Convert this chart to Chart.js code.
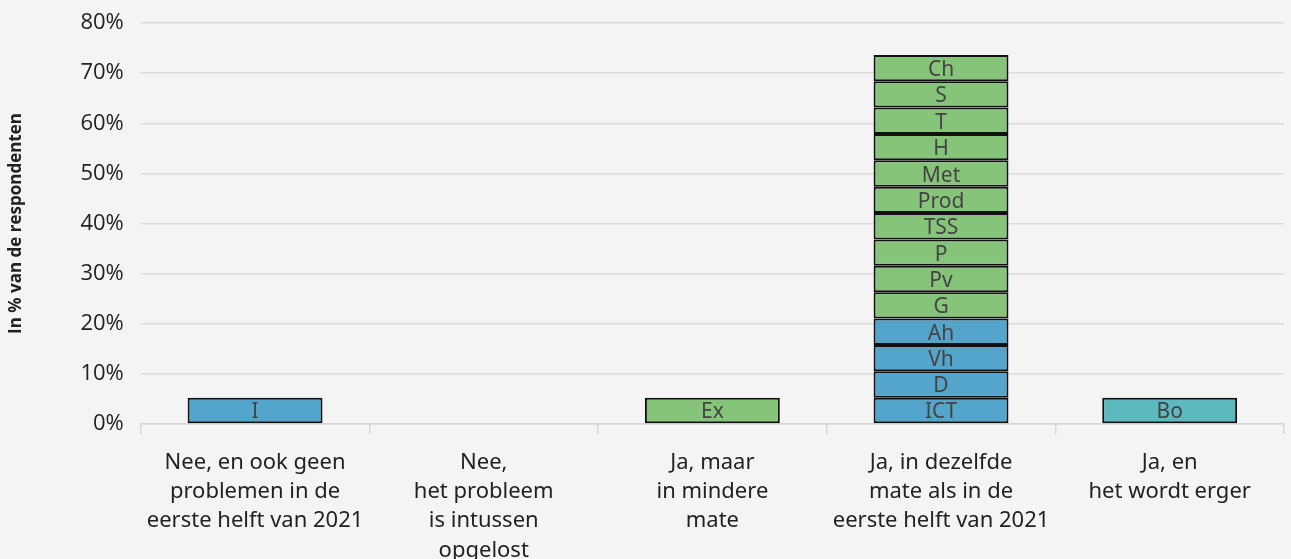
<!DOCTYPE html>
<html>
<head>
<meta charset="utf-8">
<script src="https://cdn.jsdelivr.net/npm/chart.js@4.4.1/dist/chart.umd.min.js"></script>
<style>
    html, body { margin: 0; padding: 0; background: #f4f4f4; }
    #wrap { width: 1291px; height: 559px; position: relative; }
</style>
</head>
<body>
<div id="wrap"><canvas id="chart"></canvas></div>
<script>
// categories (multi-line labels)
const categories = [
    ['Nee, en ook geen', 'problemen in de', 'eerste helft van 2021'],
    ['Nee,', 'het probleem', 'is intussen', 'opgelost'],
    ['Ja, maar', 'in mindere', 'mate'],
    ['Ja, in dezelfde', 'mate als in de', 'eerste helft van 2021'],
    ['Ja, en', 'het wordt erger']
];

// stacked segments per category, bottom to top
const segmentLabels = [
    ['I'],
    [],
    ['Ex'],
    ['ICT', 'D', 'Vh', 'Ah', 'G', 'Pv', 'P', 'TSS', 'Prod', 'Met', 'H', 'T', 'S', 'Ch'],
    ['Bo']
];
const segmentValues = [
    [5.26],
    [],
    [5.26],
    [5.26, 5.26, 5.26, 5.26, 5.26, 5.26, 5.26, 5.26, 5.26, 5.26, 5.26, 5.26, 5.26, 5.26],
    [5.26]
];
const segmentGroups = [
    ['a'],
    [],
    ['b'],
    ['a', 'a', 'a', 'a', 'b', 'b', 'b', 'b', 'b', 'b', 'b', 'b', 'b', 'b'],
    ['c']
];

const yTicks = [0, 10, 20, 30, 40, 50, 60, 70, 80];

const palette = { a: '#53a5cb', b: '#86c47a', c: '#5db9c0' };

// one dataset per stack level
const depth = Math.max(...segmentValues.map(s => s.length));
const datasets = [];
for (let i = 0; i < depth; i++) {
    datasets.push({
        label: 'level ' + (i + 1),
        data: segmentValues.map(s => (s[i] !== undefined ? s[i] : null)),
        segText: segmentLabels.map(s => s[i] || ''),
        backgroundColor: segmentGroups.map(s => palette[s[i]] || 'transparent'),
        borderColor: '#111111',
        borderWidth: 2,
        borderSkipped: false,
        barPercentage: 0.59,
        categoryPercentage: 1.0,
        stack: 'one'
    });
}

// draws the segment names inside the bars
const segmentTextPlugin = {
    id: 'segmentText',
    afterDatasetsDraw(chart) {
        const ctx = chart.ctx;
        ctx.save();
        ctx.font = '21px "Noto Sans"';
        ctx.fillStyle = '#444444';
        ctx.textAlign = 'center';
        ctx.textBaseline = 'middle';
        chart.data.datasets.forEach((ds, di) => {
            const meta = chart.getDatasetMeta(di);
            meta.data.forEach((bar, idx) => {
                const txt = ds.segText[idx];
                if (!txt || ds.data[idx] == null) {return;}
                const y = (bar.y + bar.base) / 2 + 2;
                ctx.fillText(txt, bar.x, y);
            });
        });
        ctx.restore();
    }
};

new Chart(document.getElementById('chart'), {
    type: 'bar',
    data: { labels: categories, datasets: datasets },
    plugins: [segmentTextPlugin],
    options: {
        responsive: true,
        maintainAspectRatio: false,
        animation: false,
        layout: { padding: { left: 6, right: 7, top: 23, bottom: 0 } },
        plugins: {
            legend: { display: false },
            tooltip: { enabled: false }
        },
        scales: {
            x: {
                stacked: true,
                afterFit(axis) {
                    // labels may run to the bottom edge, like the original
                    axis.height = 135;
                    axis.paddingTop = 0;
                },
                grid: {
                    display: true,
                    drawOnChartArea: false,
                    drawTicks: true,
                    tickLength: 10,
                    color: '#d6d6d6',
                    lineWidth: 1.5
                },
                border: { display: true, color: '#d6d6d6', width: 1.5 },
                ticks: {
                    color: '#222222',
                    font: { family: '"Noto Sans"', size: 22, lineHeight: 1.33 },
                    padding: 14,
                    maxRotation: 0,
                    autoSkip: false
                }
            },
            y: {
                stacked: true,
                min: 0,
                max: 80,
                afterBuildTicks(axis) {
                    axis.ticks = yTicks.map(v => ({ value: v }));
                },
                afterFit(axis) {
                    axis.paddingTop = 0;
                    axis.paddingBottom = 0;
                },
                grid: { color: '#dcdcdc', lineWidth: 1.5, drawTicks: false },
                border: { display: false },
                ticks: {
                    color: '#222222',
                    font: { family: '"Open Sans"', size: 22 },
                    padding: 17,
                    callback: v => v + '%'
                },
                title: {
                    display: true,
                    text: 'In % van de respondenten',
                    color: '#222222',
                    font: { family: '"Open Sans"', size: 17, weight: 'bold' },
                    padding: { top: 0, bottom: 37 }
                }
            }
        }
    }
});
</script>
</body>
</html>
